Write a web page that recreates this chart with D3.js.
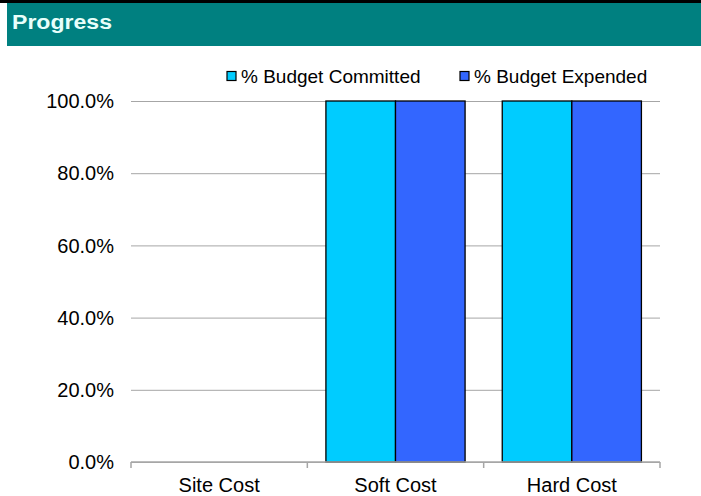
<!DOCTYPE html>
<html>
<head>
<meta charset="utf-8">
<title>Progress</title>
<script src="https://cdn.jsdelivr.net/npm/d3@7"></script>
<style>
  body { margin: 0; background: #fff; font-family: "Liberation Sans", Arial, sans-serif; }
  .grid .domain { display: none; }
</style>
</head>
<body>
<script>
const categories = ["Site Cost", "Soft Cost", "Hard Cost"];
const seriesNames = ["% Budget Committed", "% Budget Expended"];
const committed = [0, 1.0, 1.0];
const expended = [0, 1.0, 1.0];
const yTicks = [0, 0.2, 0.4, 0.6, 0.8, 1.0];
const colors = ["#00ccff", "#3366ff"];

const W = 701, H = 496;
const m = { left: 131, right: 41, top: 101, bottom: 34 };
const innerW = W - m.left - m.right;
const innerH = H - m.top - m.bottom;

const svg = d3.select("body").append("svg").attr("width", W).attr("height", H);

// header band
svg.append("rect").attr("x", 0).attr("y", 0).attr("width", W).attr("height", 3).attr("fill", "#000");
svg.append("rect").attr("x", 7).attr("y", 3).attr("width", W - 7).attr("height", 43).attr("fill", "#008080");
svg.append("text").attr("x", 12).attr("y", 28.5).text("Progress")
  .attr("fill", "#e8fffb").attr("font-weight", "bold").attr("font-size", 19.5)
  .attr("textLength", 100).attr("lengthAdjust", "spacingAndGlyphs");

const g = svg.append("g").attr("transform", `translate(${m.left},${m.top})`);

const x = d3.scaleBand().domain(categories).range([0, innerW]);
const x1 = d3.scaleBand().domain(seriesNames).range([0, x.bandwidth()]).paddingOuter(0.267);
const y = d3.scaleLinear().domain([0, 1]).range([innerH, 0]);

// gridlines
g.append("g").attr("class", "grid")
  .call(d3.axisLeft(y).tickValues(yTicks).tickSize(-innerW).tickFormat(""))
  .selectAll("line").attr("stroke", "#a6a6a6");

// y labels
g.append("g").selectAll("text").data(yTicks).join("text")
  .attr("x", -17).attr("y", d => y(d)).attr("dy", "0.36em")
  .attr("text-anchor", "end").attr("font-size", 20).attr("fill", "#000")
  .text(d3.format(".1%"));

// bars
const rows = categories.map((c, i) => ({ cat: c, vals: [committed[i], expended[i]] }));
const grp = g.selectAll(".cat").data(rows).join("g").attr("transform", d => `translate(${x(d.cat)},0)`);
grp.selectAll("rect").data(d => d.vals.map((v, j) => ({ v, s: seriesNames[j], j })).filter(e => e.v > 0))
  .join("rect")
  .attr("x", d => x1(d.s)).attr("width", x1.bandwidth())
  .attr("y", d => y(d.v)).attr("height", d => innerH - y(d.v))
  .attr("fill", d => colors[d.j]).attr("stroke", "#000").attr("stroke-width", 1.3);

// x axis
const xa = g.append("g").attr("transform", `translate(0,${innerH})`);
xa.append("line").attr("x1", 0).attr("x2", innerW).attr("stroke", "#a6a6a6").attr("stroke-width", 1.5);
const bounds = [0].concat(categories.map(c => x(c) + x.bandwidth()));
xa.selectAll(".tk").data(bounds).join("line")
  .attr("x1", d => d).attr("x2", d => d).attr("y1", 0).attr("y2", 6)
  .attr("stroke", "#a6a6a6").attr("stroke-width", 1.5);
xa.selectAll("text").data(categories).join("text")
  .attr("x", d => x(d) + x.bandwidth() / 2).attr("y", 29.5)
  .attr("text-anchor", "middle").attr("font-size", 20).attr("fill", "#000")
  .text(d => d);

// legend
const lg = svg.append("g");
const legX = [227, 460];
seriesNames.forEach((s, i) => {
  lg.append("rect").attr("x", legX[i]).attr("y", 71.5).attr("width", 9).attr("height", 9)
    .attr("fill", colors[i]).attr("stroke", "#000").attr("stroke-width", 1.2);
  lg.append("text").attr("x", legX[i] + 14).attr("y", 83).attr("font-size", 19)
    .attr("fill", "#000").text(s);
});
</script>
</body>
</html>
